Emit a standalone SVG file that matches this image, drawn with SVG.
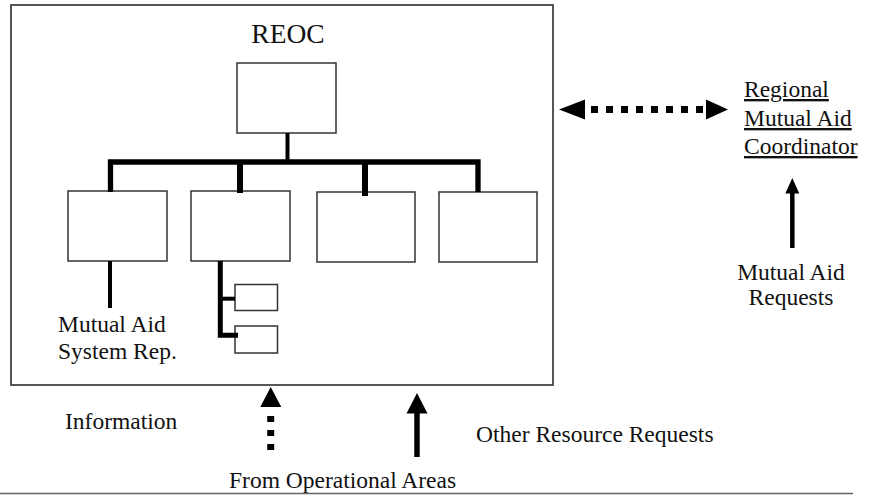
<svg xmlns="http://www.w3.org/2000/svg" width="872" height="495" viewBox="0 0 872 495">
<style>
.box{fill:#fff;stroke:#333;stroke-width:1.5}
.outer{fill:#fff;stroke:#444;stroke-width:1.8}
.t{font-family:'Liberation Serif','DejaVu Serif',serif;font-size:23.5px;fill:#111}
.big{font-size:27.5px}
.ln{stroke:#000;fill:none}
.head{fill:#000}
.dot{stroke:#000;fill:none}
</style>
<rect width="872" height="495" fill="#fff"/>
<g id="reoc">
<rect class="outer" x="11" y="5" width="542" height="380"/>
<text class="t big" font-family="Liberation Serif, DejaVu Serif, serif" x="288" y="43" text-anchor="middle">REOC</text>
</g>
<g id="top-box"><rect class="box" x="237" y="63" width="99" height="70"/></g>
<g id="box1"><rect class="box" x="68" y="191" width="99" height="70"/></g>
<g id="box2"><rect class="box" x="191" y="191" width="99" height="70"/></g>
<g id="box3"><rect class="box" x="317" y="192" width="98" height="70"/></g>
<g id="box4"><rect class="box" x="439" y="192" width="98" height="70"/></g>
<g id="sub1"><rect class="box" x="235" y="284.5" width="42.5" height="26"/></g>
<g id="sub2"><rect class="box" x="235" y="326" width="42.5" height="27"/></g>
<g id="mutual-aid-rep" font-family="Liberation Serif, DejaVu Serif, serif"><text class="t" x="58" y="332">Mutual Aid</text><text class="t" x="58" y="358.5">System Rep.</text></g>
<g id="regional-coordinator" font-family="Liberation Serif, DejaVu Serif, serif">
<text class="t" x="744" y="97" text-decoration="underline">Regional</text>
<text class="t" x="744" y="126" text-decoration="underline">Mutual Aid</text>
<text class="t" x="744" y="154" text-decoration="underline">Coordinator</text>
</g>
<g id="mutual-aid-requests" font-family="Liberation Serif, DejaVu Serif, serif"><text class="t" x="791" y="280" text-anchor="middle">Mutual Aid</text><text class="t" x="791" y="305" text-anchor="middle">Requests</text></g>
<g id="information" font-family="Liberation Serif, DejaVu Serif, serif"><text class="t" x="65" y="429">Information</text></g>
<g id="other-requests" font-family="Liberation Serif, DejaVu Serif, serif"><text class="t" x="476" y="442">Other Resource Requests</text></g>
<g id="from-operational" font-family="Liberation Serif, DejaVu Serif, serif"><text class="t" x="229" y="488">From Operational Areas</text></g>
<g id="connectors">
<line class="ln" x1="287.5" y1="133" x2="287.5" y2="163" stroke-width="4"/>
<polyline class="ln" points="110.5,192 110.5,162 478,162 478,192" stroke-width="5.3"/>
<line class="ln" x1="240" y1="162" x2="240" y2="193" stroke-width="6"/>
<line class="ln" x1="365" y1="162" x2="365" y2="196" stroke-width="6"/>
<line class="ln" x1="110" y1="261" x2="110" y2="308" stroke-width="4"/>
<polyline class="ln" points="220.3,261 220.3,335.3 238,335.3" stroke-width="5"/>
<line class="ln" x1="220" y1="298.7" x2="235" y2="298.7" stroke-width="4"/>
<line class="dot" x1="591" y1="109.5" x2="703" y2="109.5" stroke-width="7" stroke-dasharray="7 8"/>
<polygon class="head" points="559,109.5 585,99.5 585,119.5"/>
<polygon class="head" points="728,109.5 706,99.5 706,119.5"/>
<line class="ln" x1="792.3" y1="192" x2="792.3" y2="248" stroke-width="4.5"/>
<polygon class="head" points="792.3,178 785.3,193.5 799.3,193.5"/>
<line class="dot" x1="270.7" y1="416" x2="270.7" y2="451" stroke-width="7" stroke-dasharray="6 8"/>
<polygon class="head" points="270.7,387 260.3,407 281.3,407"/>
<line class="ln" x1="417" y1="412" x2="417" y2="457" stroke-width="5.5"/>
<polygon class="head" points="417,393 406.5,413.5 427.5,413.5"/>
</g>
<line x1="0" y1="493.5" x2="853" y2="493.5" stroke="#666" stroke-width="1.5"/>
</svg>
